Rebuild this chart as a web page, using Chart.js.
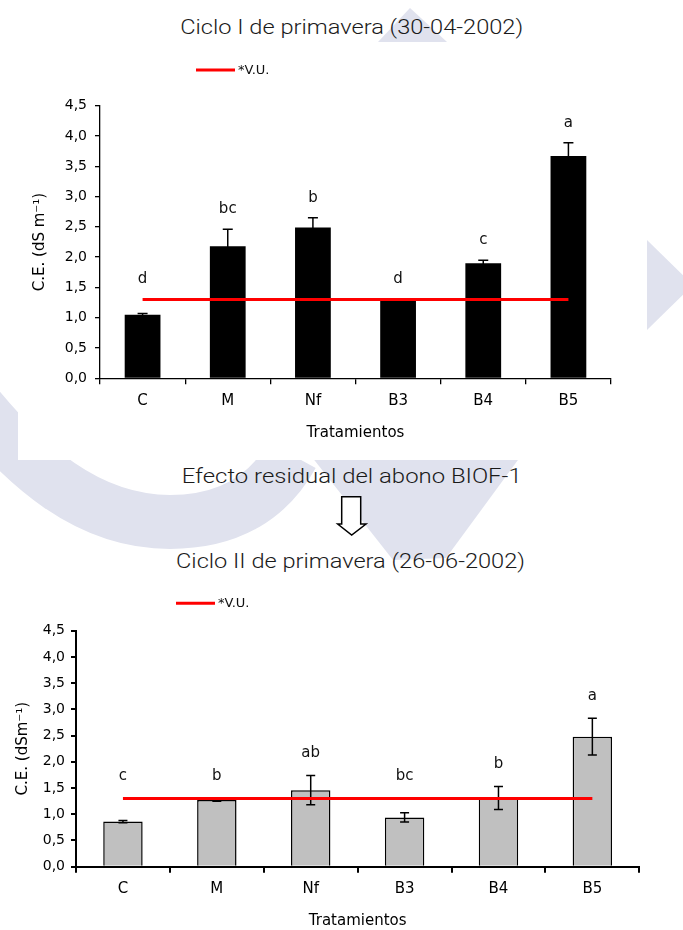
<!DOCTYPE html>
<html>
<head>
<meta charset="utf-8">
<script src="https://cdn.jsdelivr.net/npm/chart.js@4.4.1/dist/chart.umd.min.js"></script>
<style>
  html, body { margin: 0; padding: 0; background: #fff; }
  #page { position: relative; width: 683px; height: 930px; overflow: hidden; background: #fff; }
  #deco { position: absolute; left: 0; top: 0; }
  .box { position: absolute; left: 0; width: 683px; }
  #box1 { top: 0; height: 450px; }
  #box2 { top: 580px; height: 350px; }
  .title { font-family: Roboto, "Liberation Sans", sans-serif; font-weight: 300; font-size: 21px; fill: #1a1a1a; }
</style>
</head>
<body>
<div id="page">
  <svg id="deco" width="683" height="930" xmlns="http://www.w3.org/2000/svg">
    <!-- faint background emblem -->
    <g fill="#e0e2ee" stroke="none">
      <polygon points="378,42 410,8 447,42"/>
      <polygon points="647,240 693,285 647,330"/>
      <path d="M -40 385 C 25 470, 90 522, 170 522 C 232 522, 270 495, 292 455" fill="none" stroke="#e0e2ee" stroke-width="54"/>
      <polygon points="267,400 562,400 446,558 393,560"/>
    </g>
    <rect x="18" y="42" width="629" height="418" fill="#fff"/>
    <rect x="0" y="575" width="683" height="355" fill="#fff"/>
    <text class="title" x="351.7" y="33.5" text-anchor="middle" textLength="343" lengthAdjust="spacingAndGlyphs">Ciclo I de primavera (30-04-2002)</text>
    <text class="title" x="351.7" y="483" text-anchor="middle" textLength="340" lengthAdjust="spacingAndGlyphs">Efecto residual del abono BIOF-1</text>
    <text class="title" x="350.5" y="568" text-anchor="middle" textLength="349" lengthAdjust="spacingAndGlyphs">Ciclo II de primavera (26-06-2002)</text>
    <path d="M 341.7 496.7 H 360.7 V 524 H 366 L 351.7 535 L 337.7 524 H 341.7 Z" fill="#fff" stroke="#000" stroke-width="1.5" stroke-linejoin="miter"/>
  </svg>
  <div class="box" id="box1"><canvas id="c1"></canvas></div>
  <div class="box" id="box2"><canvas id="c2"></canvas></div>
</div>
<script>
// Treatments and tick labels
const categories = ['C', 'M', 'Nf', 'B3', 'B4', 'B5'];
const yTickLabels = ['0,0', '0,5', '1,0', '1,5', '2,0', '2,5', '3,0', '3,5', '4,0', '4,5'];

// Ciclo I de primavera (30-04-2002): electrical conductivity, dS m-1
const ciclo1Values = [1.05, 2.18, 2.49, 1.28, 1.90, 3.67];
const ciclo1Errors = [0.02, 0.28, 0.16, 0.00, 0.05, 0.22];
const ciclo1Letters = ['d', 'bc', 'b', 'd', 'c', 'a'];

// Ciclo II de primavera (26-06-2002): residual effect
const ciclo2Values = [0.86, 1.27, 1.46, 0.94, 1.31, 2.48];
const ciclo2Errors = [0.02, 0.02, 0.28, 0.09, 0.22, 0.35];
const ciclo2Letters = ['c', 'b', 'ab', 'bc', 'b', 'a'];

// Reference threshold (*V.U.)
const vuLimit = [1.3, 1.3, 1.3, 1.3, 1.3, 1.3];

const FONT = '"DejaVu Sans", "Liberation Sans", sans-serif';

// Error bars drawn right after the bar dataset, so the threshold line stays on top
const errorBarPlugin = {
  id: 'errorBars',
  afterDatasetDraw(chart, args, opts) {
    const ds = chart.data.datasets[args.index];
    if (!ds.errors) return;
    const y = chart.scales.y;
    const ctx = chart.ctx;
    ctx.save();
    ctx.strokeStyle = opts.color;
    ctx.lineWidth = opts.width;
    args.meta.data.forEach((bar, i) => {
      const e = ds.errors[i];
      if (!e) return;
      const yt = y.getPixelForValue(ds.data[i] + e);
      const yb = y.getPixelForValue(ds.data[i] - e);
      ctx.beginPath();
      ctx.moveTo(bar.x, yt); ctx.lineTo(bar.x, yb);
      ctx.moveTo(bar.x - opts.cap, yt); ctx.lineTo(bar.x + opts.cap, yt);
      ctx.moveTo(bar.x - opts.cap, yb); ctx.lineTo(bar.x + opts.cap, yb);
      ctx.stroke();
    });
    ctx.restore();
  }
};

// Significance letters above each bar (above the threshold line when it is higher)
const lettersPlugin = {
  id: 'letters',
  afterDatasetsDraw(chart, args, opts) {
    const barIdx = chart.data.datasets.findIndex(d => d.type === 'bar');
    const ds = chart.data.datasets[barIdx];
    const lineDs = chart.data.datasets.find(d => d.type === 'line');
    const meta = chart.getDatasetMeta(barIdx);
    const y = chart.scales.y;
    const ctx = chart.ctx;
    ctx.save();
    ctx.fillStyle = '#111';
    ctx.font = opts.size + 'px ' + FONT;
    ctx.textAlign = 'center';
    ctx.textBaseline = 'middle';
    meta.data.forEach((bar, i) => {
      const top = Math.max(ds.data[i] + (ds.errors[i] || 0), lineDs.data[i]);
      ctx.fillText(ds.letters[i], bar.x, y.getPixelForValue(top) - opts.offset);
    });
    ctx.restore();
  }
};

// Small legend for the threshold line
const vuLegendPlugin = {
  id: 'vuLegend',
  afterDraw(chart, args, opts) {
    const lineDs = chart.data.datasets.find(d => d.type === 'line');
    const ctx = chart.ctx;
    ctx.save();
    ctx.strokeStyle = lineDs.borderColor;
    ctx.lineWidth = lineDs.borderWidth;
    ctx.beginPath();
    ctx.moveTo(opts.x, opts.y);
    ctx.lineTo(opts.x + 39, opts.y);
    ctx.stroke();
    ctx.fillStyle = '#111';
    ctx.font = '13px ' + FONT;
    ctx.textAlign = 'left';
    ctx.textBaseline = 'middle';
    ctx.fillText(lineDs.label, opts.x + 42, opts.y + 0.5);
    ctx.restore();
  }
};

function makeChart(id, cfg) {
  return new Chart(document.getElementById(id), {
    data: {
      labels: categories,
      datasets: [
        {
          type: 'line', label: '*V.U.', data: vuLimit,
          borderColor: '#ff0000', borderWidth: 3, pointRadius: 0, fill: false, tension: 0
        },
        {
          type: 'bar', label: 'C.E.', data: cfg.values, errors: cfg.errors, letters: cfg.letters,
          backgroundColor: cfg.barColor, borderColor: '#000', borderWidth: cfg.barBorder,
          barPercentage: 0.42, categoryPercentage: 1
        }
      ]
    },
    options: {
      responsive: true,
      maintainAspectRatio: false,
      animation: false,
      devicePixelRatio: 1,
      layout: { padding: { top: cfg.padTop, right: cfg.padRight, left: 0, bottom: 0 } },
      plugins: {
        legend: { display: false },
        tooltip: { enabled: false },
        errorBars: { color: '#000', width: 1.5, cap: cfg.cap },
        letters: { size: cfg.letterSize, offset: cfg.letterOffset },
        vuLegend: { x: cfg.legendX, y: cfg.legendY }
      },
      scales: {
        x: {
          type: 'category',
          offset: true,
          grid: { offset: true, drawOnChartArea: false, drawTicks: true, tickLength: 6, color: '#000', lineWidth: cfg.axisWidth },
          border: { display: true, color: '#000', width: cfg.axisWidth },
          ticks: { color: '#000', font: { family: FONT, size: 15 }, padding: cfg.xTickPad },
          title: { display: true, text: 'Tratamientos', color: '#000', font: { family: FONT, size: 15 }, padding: { top: 0, bottom: cfg.xTitlePad } },
          afterFit(scale) { scale.height = cfg.xHeight; }
        },
        y: {
          min: 0, max: 4.5,
          grid: { drawOnChartArea: false, drawTicks: true, tickLength: 5, color: '#000', lineWidth: cfg.axisWidth },
          border: { display: true, color: '#000', width: cfg.axisWidth },
          ticks: {
            stepSize: 0.5, color: '#000', font: { family: FONT, size: 14 }, padding: cfg.yTickPad,
            callback: (v, i) => yTickLabels[i]
          },
          title: { display: true, text: cfg.yTitle, color: '#000', font: { family: FONT, size: 15 }, padding: { top: cfg.yTitlePad, bottom: 0 } },
          afterFit(scale) { scale.width = cfg.yWidth; }
        }
      }
    },
    plugins: [errorBarPlugin, lettersPlugin, vuLegendPlugin]
  });
}

makeChart('c1', {
  values: ciclo1Values, errors: ciclo1Errors, letters: ciclo1Letters,
  barColor: '#000', barBorder: 0, cap: 5, letterSize: 15, letterOffset: 20,
  padTop: 105.7, padRight: 72, xHeight: 71.7, yWidth: 100,
  xTickPad: 8, xTitlePad: 8.3, yTickPad: 8, yTitlePad: 31.6, axisWidth: 1.3,
  yTitle: 'C.E. (dS m\u207B\u00B9)', legendX: 196, legendY: 70
});

makeChart('c2', {
  values: ciclo2Values, errors: ciclo2Errors, letters: ciclo2Letters,
  barColor: '#c0c0c0', barBorder: 1.5, cap: 4.5, letterSize: 15, letterOffset: 22,
  padTop: 50.7, padRight: 43.7, xHeight: 63.3, yWidth: 76,
  xTickPad: 7.4, xTitlePad: 0, yTickPad: 6, yTitlePad: 14.6, axisWidth: 2,
  yTitle: 'C.E. (dSm\u207B\u00B9)', legendX: 176, legendY: 23.3
});
</script>
</body>
</html>
